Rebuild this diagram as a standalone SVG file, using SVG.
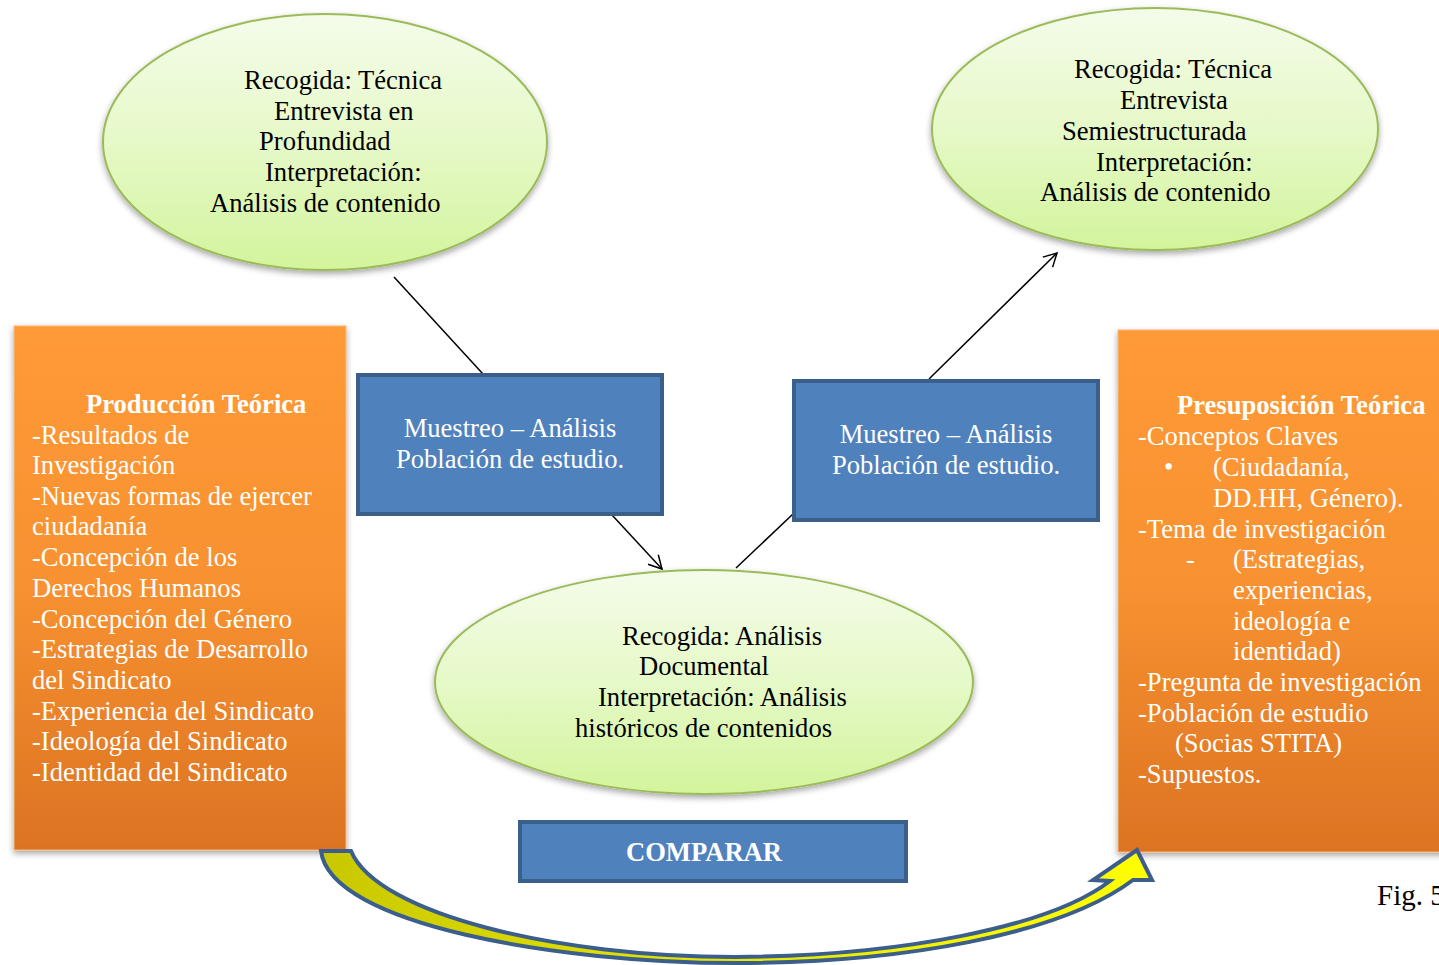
<svg xmlns="http://www.w3.org/2000/svg" width="1439" height="965" viewBox="0 0 1439 965">
<defs>
<linearGradient id="gEll" x1="0" y1="0" x2="0" y2="1">
<stop offset="0" stop-color="#f4fcea"/>
<stop offset="0.5" stop-color="#e6f9c8"/>
<stop offset="1" stop-color="#d3f49c"/>
</linearGradient>
<linearGradient id="gOr" x1="0" y1="0" x2="0" y2="1">
<stop offset="0" stop-color="#ff9a38"/>
<stop offset="0.5" stop-color="#f79130"/>
<stop offset="1" stop-color="#dc7323"/>
</linearGradient>
<linearGradient id="gArr" x1="0" y1="0" x2="1" y2="0">
<stop offset="0" stop-color="#c9c800"/>
<stop offset="0.5" stop-color="#e8e800"/>
<stop offset="1" stop-color="#ffff00"/>
</linearGradient>
<filter id="sh" x="-10%" y="-10%" width="120%" height="130%">
<feDropShadow dx="0" dy="3" stdDeviation="3" flood-color="#000" flood-opacity="0.35"/>
</filter>
<marker id="ah" markerWidth="16" markerHeight="16" refX="14" refY="8" orient="auto" markerUnits="userSpaceOnUse">
<path d="M1,1 L14,8 L1,15" fill="none" stroke="#000" stroke-width="1.5"/>
</marker>
<style>
.ell{fill:url(#gEll);stroke:#9bbb59;stroke-width:2;filter:url(#sh)}
.blue{fill:#4f81bd;stroke:#3a5f8b;stroke-width:4}
.orange{fill:url(#gOr);stroke:#f8b77a;stroke-width:1;filter:url(#sh)}
.t{font-family:"Liberation Serif","Times New Roman",serif;font-size:26.6px;fill:#000}
.w{font-family:"Liberation Serif","Times New Roman",serif;font-size:26.6px;fill:#fff}
.b{font-weight:bold}
.conn{stroke:#000;stroke-width:1.5;fill:none}
</style>
</defs>
<rect width="1439" height="965" fill="#fff"/>

<g id="connectors">
<line class="conn" x1="394" y1="277" x2="483" y2="374"/>
<line class="conn" x1="612" y1="515" x2="662" y2="569" marker-end="url(#ah)"/>
<line class="conn" x1="736" y1="568" x2="793" y2="514"/>
<line class="conn" x1="929" y1="379" x2="1057" y2="253" marker-end="url(#ah)"/>
</g>

<g id="ellipse-left">
<ellipse class="ell" cx="325" cy="142" rx="222" ry="128"/>
<text class="t" x="244" y="89">Recogida: Técnica</text>
<text class="t" x="274" y="120">Entrevista en</text>
<text class="t" x="259" y="150">Profundidad</text>
<text class="t" x="265" y="181">Interpretación:</text>
<text class="t" x="210" y="212">Análisis de contenido</text>
</g>

<g id="ellipse-right">
<ellipse class="ell" cx="1155" cy="129" rx="223" ry="121"/>
<text class="t" x="1074" y="78">Recogida: Técnica</text>
<text class="t" x="1120" y="109">Entrevista</text>
<text class="t" x="1062" y="140">Semiestructurada</text>
<text class="t" x="1096" y="171">Interpretación:</text>
<text class="t" x="1040" y="201">Análisis de contenido</text>
</g>

<g id="ellipse-middle">
<ellipse class="ell" cx="704" cy="682" rx="269" ry="112"/>
<text class="t" x="622" y="645">Recogida: Análisis</text>
<text class="t" x="639" y="675">Documental</text>
<text class="t" x="598" y="706">Interpretación: Análisis</text>
<text class="t" x="575" y="737">históricos de contenidos</text>
</g>

<g id="box-muestreo-1">
<rect class="blue" x="358" y="375" width="304" height="139"/>
<text class="w" x="510" y="437" text-anchor="middle">Muestreo – Análisis</text>
<text class="w" x="510" y="468" text-anchor="middle">Población de estudio.</text>
</g>

<g id="box-muestreo-2">
<rect class="blue" x="794" y="381" width="304" height="139"/>
<text class="w" x="946" y="443" text-anchor="middle">Muestreo – Análisis</text>
<text class="w" x="946" y="474" text-anchor="middle">Población de estudio.</text>
</g>

<g id="box-comparar">
<rect class="blue" x="520" y="822" width="386" height="59"/>
<text class="w b" x="704" y="861" text-anchor="middle">COMPARAR</text>
</g>

<g id="box-produccion">
<rect class="orange" x="14" y="326" width="332" height="524"/>
<text class="w b" x="86" y="413">Producción Teórica</text>
<text class="w" x="32" y="444">-Resultados de</text>
<text class="w" x="32" y="474">Investigación</text>
<text class="w" x="32" y="505">-Nuevas formas de ejercer</text>
<text class="w" x="32" y="535">ciudadanía</text>
<text class="w" x="32" y="566">-Concepción de los</text>
<text class="w" x="32" y="597">Derechos Humanos</text>
<text class="w" x="32" y="628">-Concepción del Género</text>
<text class="w" x="32" y="658">-Estrategias de Desarrollo</text>
<text class="w" x="32" y="689">del Sindicato</text>
<text class="w" x="32" y="720">-Experiencia del Sindicato</text>
<text class="w" x="32" y="750">-Ideología del Sindicato</text>
<text class="w" x="32" y="781">-Identidad del Sindicato</text>
</g>

<g id="box-presuposicion">
<rect class="orange" x="1118" y="330" width="330" height="522"/>
<text class="w b" x="1177" y="414">Presuposición Teórica</text>
<text class="w" x="1138" y="445">-Conceptos Claves</text>
<text class="w" x="1164" y="476">•</text>
<text class="w" x="1213" y="476">(Ciudadanía,</text>
<text class="w" x="1213" y="507">DD.HH, Género).</text>
<text class="w" x="1138" y="538">-Tema de investigación</text>
<text class="w" x="1186" y="568">-</text>
<text class="w" x="1233" y="568">(Estrategias,</text>
<text class="w" x="1233" y="599">experiencias,</text>
<text class="w" x="1233" y="630">ideología e</text>
<text class="w" x="1233" y="660">identidad)</text>
<text class="w" x="1138" y="691">-Pregunta de investigación</text>
<text class="w" x="1138" y="722">-Población de estudio</text>
<text class="w" x="1175" y="752">(Socias STITA)</text>
<text class="w" x="1138" y="783">-Supuestos.</text>
</g>

<g id="curved-arrow">
<path d="M321,851 C330,925 560,963 735,963 C900,963 1060,935 1133,880 L1152,880 L1137,850 L1093,880 L1110,881 C1050,927 900,956 735,957 C560,957 378,915 351,851 Z" fill="url(#gArr)" stroke="#3b5e8c" stroke-width="4" stroke-linejoin="miter"/>
</g>

<text x="1377" y="905" style="font-family:'Liberation Serif','Times New Roman',serif;font-size:29px;fill:#000">Fig. 5</text>
</svg>
